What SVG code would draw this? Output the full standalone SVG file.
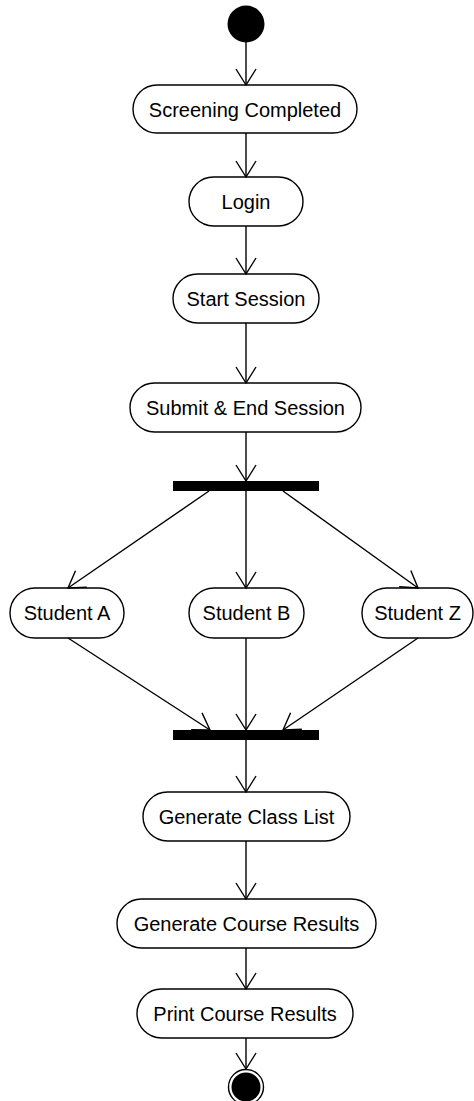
<svg xmlns="http://www.w3.org/2000/svg" width="474" height="1101" viewBox="0 0 474 1101">
  <style>
    .act { fill: #ffffff; stroke: #000000; stroke-width: 1.4; }
    .lbl { font-family: "Liberation Sans", Arial, sans-serif; font-size: 20px; fill: #000000; text-anchor: middle; }
    .bar { fill: #000000; }
    .edge { fill: none; stroke: #000000; stroke-width: 1.4; marker-end: url(#open); }
  </style>
  <defs>
    <marker id="open" markerUnits="userSpaceOnUse" markerWidth="20" markerHeight="24" viewBox="-18 -12 20 24" refX="0" refY="0" orient="auto">
      <path d="M -16 -10 L 0 0 L -16 10" fill="none" stroke="#000000" stroke-width="1.4"/>
    </marker>
  </defs>

  <!-- initial state -->
  <g id="start">
    <circle cx="246" cy="24" r="18.5" fill="#000000"/>
  </g>

  <g id="screening-completed">
    <rect class="act" x="133" y="85" width="224" height="48" rx="24" ry="24"/>
    <text class="lbl" x="245" y="117">Screening Completed</text>
  </g>

  <g id="login">
    <rect class="act" x="189" y="177" width="114" height="49" rx="24.5" ry="24.5"/>
    <text class="lbl" x="246" y="209">Login</text>
  </g>

  <g id="start-session">
    <rect class="act" x="173" y="274" width="146" height="49" rx="24.5" ry="24.5"/>
    <text class="lbl" x="246" y="306">Start Session</text>
  </g>

  <g id="submit-end-session">
    <rect class="act" x="130" y="383" width="231" height="49" rx="24.5" ry="24.5"/>
    <text class="lbl" x="245.5" y="415">Submit &amp; End Session</text>
  </g>

  <!-- fork -->
  <g id="fork">
    <rect class="bar" x="173" y="481" width="146" height="10"/>
  </g>

  <g id="student-a">
    <rect class="act" x="10" y="588" width="114" height="50" rx="25" ry="25"/>
    <text class="lbl" x="67" y="620">Student A</text>
  </g>

  <g id="student-b">
    <rect class="act" x="189" y="588" width="115" height="50" rx="25" ry="25"/>
    <text class="lbl" x="246.5" y="620">Student B</text>
  </g>

  <g id="student-z">
    <rect class="act" x="362" y="588" width="111" height="50" rx="25" ry="25"/>
    <text class="lbl" x="417.5" y="620">Student Z</text>
  </g>

  <!-- join -->
  <g id="join">
    <rect class="bar" x="173" y="730" width="146" height="10"/>
  </g>

  <g id="generate-class-list">
    <rect class="act" x="143" y="792" width="207" height="49" rx="24.5" ry="24.5"/>
    <text class="lbl" x="246.5" y="824">Generate Class List</text>
  </g>

  <g id="generate-course-results">
    <rect class="act" x="117" y="899" width="259" height="49" rx="24.5" ry="24.5"/>
    <text class="lbl" x="246.5" y="931">Generate Course Results</text>
  </g>

  <g id="print-course-results">
    <rect class="act" x="137" y="989" width="216" height="49" rx="24.5" ry="24.5"/>
    <text class="lbl" x="245" y="1021">Print Course Results</text>
  </g>

  <!-- final state -->
  <g id="end">
    <circle cx="246" cy="1087" r="17.5" fill="#ffffff" stroke="#000000" stroke-width="1.4"/>
    <circle cx="246" cy="1087" r="14.5" fill="#000000"/>
  </g>

  <g id="connectors">
    <line class="edge" x1="246" y1="42" x2="246" y2="85"/>
    <line class="edge" x1="246" y1="133" x2="246" y2="177"/>
    <line class="edge" x1="246" y1="226" x2="246" y2="274"/>
    <line class="edge" x1="246" y1="323" x2="246" y2="383"/>
    <line class="edge" x1="246" y1="432" x2="246" y2="481"/>
    <line class="edge" x1="209" y1="491" x2="68" y2="588"/>
    <line class="edge" x1="246" y1="491" x2="246" y2="588"/>
    <line class="edge" x1="283" y1="491" x2="418" y2="588"/>
    <line class="edge" x1="68" y1="638" x2="210" y2="730"/>
    <line class="edge" x1="246" y1="638" x2="246" y2="730"/>
    <line class="edge" x1="418" y1="638" x2="283" y2="730"/>
    <line class="edge" x1="246" y1="740" x2="246" y2="792"/>
    <line class="edge" x1="246" y1="841" x2="246" y2="899"/>
    <line class="edge" x1="246" y1="948" x2="246" y2="989"/>
    <line class="edge" x1="246" y1="1038" x2="246" y2="1069"/>
  </g>
</svg>
